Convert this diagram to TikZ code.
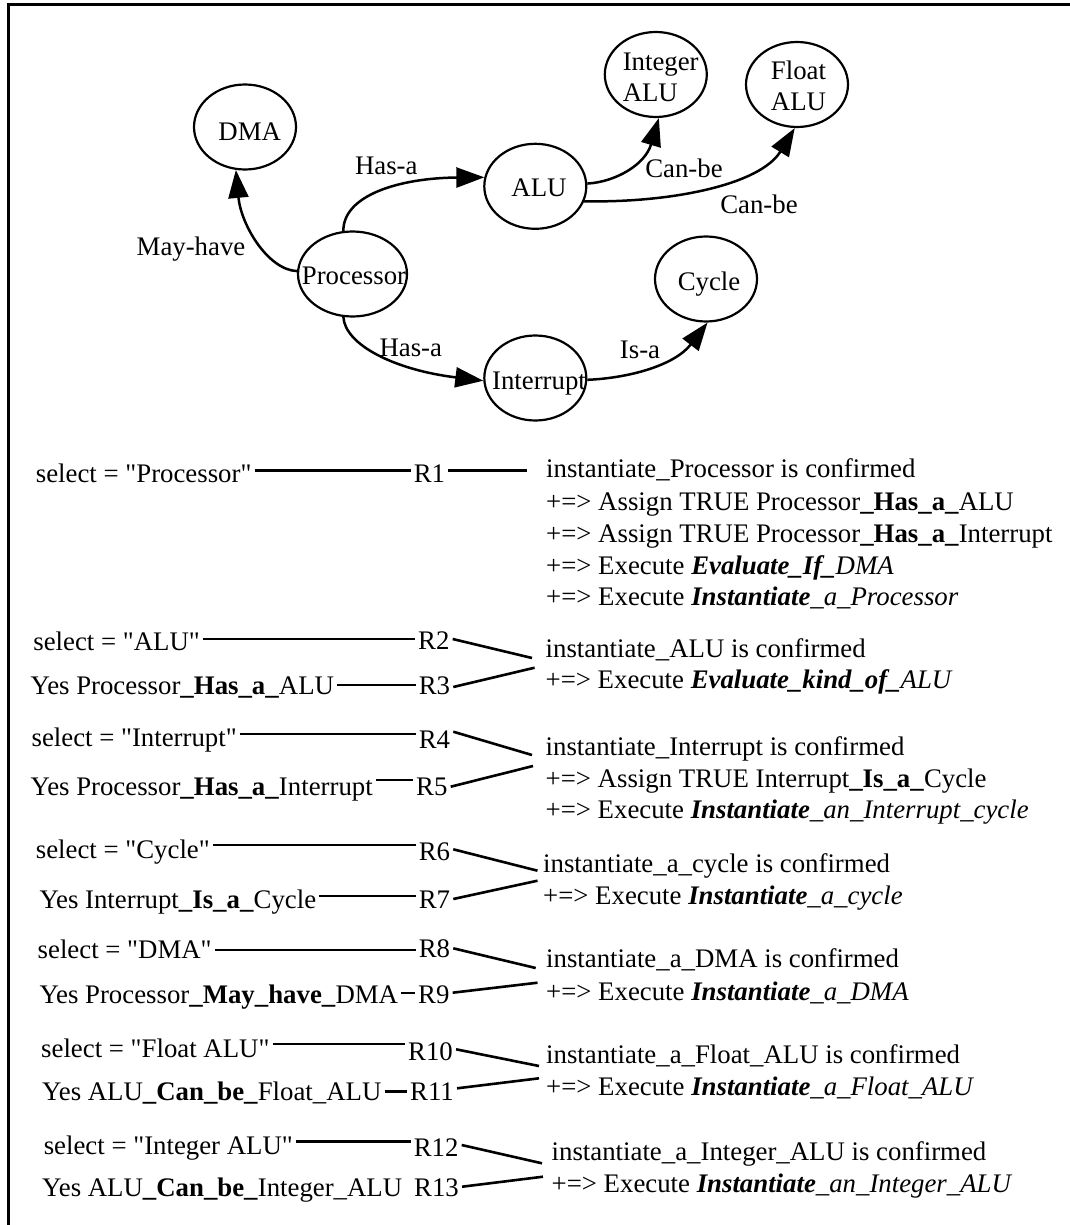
\documentclass[tikz,border=0pt]{standalone}
\usepackage{fontspec}
\setmainfont{Liberation Serif}
\usetikzlibrary{arrows.meta,shapes.geometric}
\newcommand\myfs{\fontsize{26.8}{32}\selectfont}
\newcommand\myfsb{\fontsize{26.8}{30.7}\selectfont}
\newcommand\qd{\textquotedbl}
\begin{document}
\begin{tikzpicture}[x=1pt,y=-1pt,
  gnode/.style={draw, ellipse, line width=2.2pt, minimum width=102pt, minimum height=85pt, inner sep=0pt},
  glabel/.style={font=\myfs, inner sep=0pt, text depth=0pt},
  edge/.style={line width=2.5pt, -{Triangle[length=28pt,width=20pt]}},
  txt/.style={font=\myfs, anchor=base west, inner xsep=3pt, inner ysep=0pt},
  rtxt/.style={font=\myfs, anchor=base west, inner sep=0pt},
  rl/.style={line width=2.6pt},
  frame/.style={line width=3pt}]

\useasboundingbox (0,0) rectangle (1069,1225);
\draw[frame] (8,1226) -- (8,4.8) -- (1070,4.8);

% ---------- graph ----------
\node[gnode] (dma) at (245,127) {};
\node[gnode] (intalu) at (655.8,74.5) {};
\node[gnode] (fltalu) at (797,84.5) {};
\node[gnode] (alu) at (535.3,186.3) {};
\node[gnode, minimum width=109pt] (proc) at (352.5,274) {};
\node[gnode] (cyc) at (706,279) {};
\node[gnode] (intr) at (535.3,378) {};

\node[glabel] (dma-t) at (249.7,132) {DMA};
\node[glabel, align=left, font=\myfsb] (intalu-t) at (660.7,77.5) {Integer\\ALU};
\node[glabel, align=center, font=\myfsb] (fltalu-t) at (798.5,85.8) {Float\\ALU};
\node[glabel] (alu-t) at (539,187.5) {ALU};
\node[glabel] (proc-t) at (354,275.3) {Processor};
\node[glabel] (cyc-t) at (709,281) {Cycle};
\node[glabel] (intr-t) at (539,381) {Interrupt};

\node[glabel] (l-may) at (191,246.7) {May-have};
\node[glabel] (l-has1) at (386.3,166) {Has-a};
\node[glabel] (l-can1) at (684,168) {Can-be};
\node[glabel] (l-can2) at (759,204) {Can-be};
\node[glabel] (l-has2) at (410.8,347.5) {Has-a};
\node[glabel] (l-isa) at (640,350) {Is-a};

\draw[edge] (proc.177) .. controls (268,270) and (241,225) .. (dma.258);
\draw[edge] (proc.102) .. controls (343,195) and (400,178) .. (alu.170);
\draw[edge] (proc.258) .. controls (345,345) and (395,370) .. (intr.183);
\draw[edge] (alu.3) .. controls (615,182) and (645,165) .. (intalu.274);
\draw[edge] (alu.343) .. controls (670,203) and (760,185) .. (fltalu.267);
\draw[edge] (intr.358) .. controls (630,378) and (675,365) .. (cyc.272);

% ---------- rules: left column ----------
\node[txt] (s1) at (32.7,482) {select = \qd Processor\qd};
\node[txt] (r1) at (410.6,482) {R1};
\node[txt] (s2) at (30.2,650) {select = \qd ALU\qd};
\node[txt] (r2) at (415,649) {R2};
\node[txt] (y3) at (27.4,694) {Yes Processor\textbf{\_Has\_a\_}ALU};
\node[txt] (r3) at (415.6,694) {R3};
\node[txt] (s4) at (28.4,746) {select = \qd Interrupt\qd};
\node[txt] (r4) at (415.6,748) {R4};
\node[txt] (y5) at (27.4,795) {Yes Processor\textbf{\_Has\_a\_}Interrupt};
\node[txt] (r5) at (413,795) {R5};
\node[txt] (s6) at (32.7,858) {select = \qd Cycle\qd};
\node[txt] (r6) at (415.6,860) {R6};
\node[txt] (y7) at (36.3,908) {Yes Interrupt\textbf{\_Is\_a\_}Cycle};
\node[txt] (r7) at (415.6,908) {R7};
\node[txt] (s8) at (34.5,958) {select = \qd DMA\qd};
\node[txt] (r8) at (415.6,957) {R8};
\node[txt] (y9) at (36.3,1003) {Yes Processor\textbf{\_May\_have\_}DMA};
\node[txt] (r9) at (415,1003) {R9};
\node[txt] (s10) at (38,1057) {select = \qd Float ALU\qd};
\node[txt] (r10) at (405,1060) {R10};
\node[txt] (y11) at (39,1100) {Yes ALU\textbf{\_Can\_be\_}Float\_ALU};
\node[txt] (r11) at (407,1100) {R11};
\node[txt] (s12) at (40.6,1154) {select = \qd Integer ALU\qd};
\node[txt] (r12) at (410.6,1156) {R12};
\node[txt] (y13) at (39,1196) {Yes ALU\textbf{\_Can\_be\_}Integer\_ALU};
\node[txt] (r13) at (411,1196) {R13};

% ---------- rules: right column ----------
\node[rtxt] (t1a) at (546,477) {instantiate\_Processor is confirmed};
\node[rtxt] (t1b) at (546,510) {+=> Assign TRUE Processor\textbf{\_Has\_a\_}ALU};
\node[rtxt] (t1c) at (546,542) {+=> Assign TRUE Processor\textbf{\_Has\_a\_}Interrupt};
\node[rtxt] (t1d) at (546,574) {+=> Execute \textbf{\textit{Evaluate\_If\_}}\textit{DMA}};
\node[rtxt] (t1e) at (546,605) {+=> Execute \textbf{\textit{Instantiate}}\textit{\_a\_Processor}};
\node[rtxt] (t2a) at (545.5,657) {instantiate\_ALU is confirmed};
\node[rtxt] (t2b) at (545.5,688) {+=> Execute \textbf{\textit{Evaluate\_kind\_of\_}}\textit{ALU}};
\node[rtxt] (t3a) at (545.5,755) {instantiate\_Interrupt is confirmed};
\node[rtxt] (t3b) at (545.5,787) {+=> Assign TRUE Interrupt\textbf{\_Is\_a\_}Cycle};
\node[rtxt] (t3c) at (545.5,818) {+=> Execute \textbf{\textit{Instantiate}}\textit{\_an\_Interrupt\_cycle}};
\node[rtxt] (t4a) at (543,872) {instantiate\_a\_cycle is confirmed};
\node[rtxt] (t4b) at (543,904) {+=> Execute \textbf{\textit{Instantiate}}\textit{\_a\_cycle}};
\node[rtxt] (t5a) at (546,967) {instantiate\_a\_DMA is confirmed};
\node[rtxt] (t5b) at (546,1000) {+=> Execute \textbf{\textit{Instantiate}}\textit{\_a\_DMA}};
\node[rtxt] (t6a) at (546,1063) {instantiate\_a\_Float\_ALU is confirmed};
\node[rtxt] (t6b) at (546,1095) {+=> Execute \textbf{\textit{Instantiate}}\textit{\_a\_Float\_ALU}};
\node[rtxt] (t7a) at (551.5,1160) {instantiate\_a\_Integer\_ALU is confirmed};
\node[rtxt] (t7b) at (551.5,1192) {+=> Execute \textbf{\textit{Instantiate}}\textit{\_an\_Integer\_ALU}};

% ---------- connector end points ----------
\coordinate (e1) at (527,470.7);
\coordinate (e2a) at (532,658);    \coordinate (e2b) at (534.6,667.7);
\coordinate (e3a) at (532,755);    \coordinate (e3b) at (533,766);
\coordinate (e4a) at (537.5,870.7);\coordinate (e4b) at (537.5,880.7);
\coordinate (e5a) at (535.7,968);  \coordinate (e5b) at (537.5,982.7);
\coordinate (e6a) at (539,1066);   \coordinate (e6b) at (539,1078.3);
\coordinate (e7a) at (542,1163.3); \coordinate (e7b) at (543,1176.7);

% ---------- connector lines ----------
\draw[rl] (s1.east |- 0,470.7) -- (r1.west |- 0,470.7);
\draw[rl] (r1.east |- 0,470.7) -- (e1);

\draw[rl] (s2.east |- 0,639) -- (r2.west |- 0,639);
\draw[rl] (r2.east |- 0,639) -- (e2a);
\draw[rl] (y3.east |- 0,685) -- (r3.west |- 0,685);
\draw[rl] (r3.east |- 0,687) -- (e2b);

\draw[rl] (s4.east |- 0,734) -- (r4.west |- 0,734);
\draw[rl] (r4.east |- 0,731.7) -- (e3a);
\draw[rl] (y5.east |- 0,780) -- (r5.west |- 0,780);
\draw[rl] (r5.east |- 0,786.7) -- (e3b);

\draw[rl] (s6.east |- 0,845) -- (r6.west |- 0,845);
\draw[rl] (r6.east |- 0,849.3) -- (e4a);
\draw[rl] (y7.east |- 0,896) -- (r7.west |- 0,896);
\draw[rl] (r7.east |- 0,899) -- (e4b);

\draw[rl] (s8.east |- 0,950) -- (r8.west |- 0,950);
\draw[rl] (r8.east |- 0,948.3) -- (e5a);
\draw[rl] (y9.east |- 0,993) -- (r9.west |- 0,993);
\draw[rl] (r9.east |- 0,992.7) -- (e5b);

\draw[rl] (s10.east |- 0,1044) -- (r10.west |- 0,1044);
\draw[rl] (r10.east |- 0,1049.3) -- (e6a);
\draw[rl] (y11.east |- 0,1091.7) -- (r11.west |- 0,1091.7);
\draw[rl] (r11.east |- 0,1088.3) -- (e6b);

\draw[rl] (s12.east |- 0,1141.7) -- (r12.west |- 0,1141.7);
\draw[rl] (r12.east |- 0,1145) -- (e7a);
\draw[rl] (r13.east |- 0,1186.7) -- (e7b);
\end{tikzpicture}
\end{document}
